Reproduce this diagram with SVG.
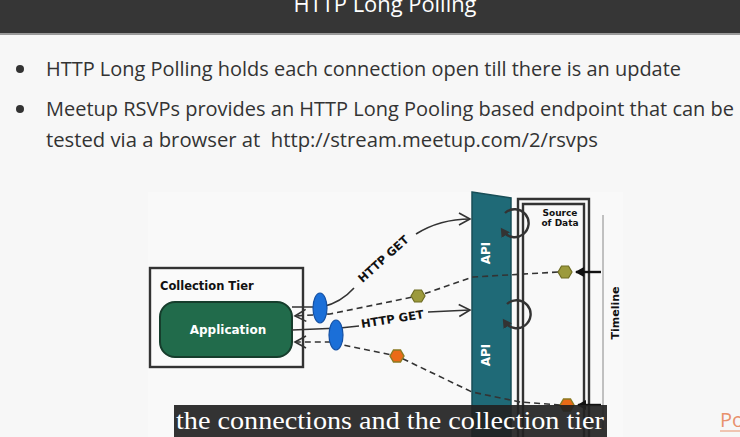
<svg xmlns="http://www.w3.org/2000/svg" width="740" height="437" viewBox="0 0 740 437">
  <style>
    .slide { font-family: "Open Sans", "Liberation Sans", sans-serif; fill: #333; }
    .hand { font-family: "DejaVu Sans", "Liberation Sans", sans-serif; font-weight: bold; }
    .caption { font-family: "Liberation Serif", "DejaVu Serif", serif; fill: #fff; }
    .wire { fill: none; stroke: #333; stroke-width: 1.6; }
    .dash { fill: none; stroke: #333; stroke-width: 1.6; stroke-dasharray: 6 4; }
    .wall { fill: none; stroke: #333; stroke-width: 2.4; }
    .olive { fill: #9c9a3c; stroke: #6e6c22; stroke-width: 1.2; }
    .orange { fill: #ea6b17; stroke: #8a7a22; stroke-width: 1.4; }
    .bead { fill: #1b6fd8; stroke: #1450a3; stroke-width: 1.2; }
  </style>
  <defs>
    <polygon id="hex" points="-7,0 -3.5,-6 3.5,-6 7,0 3.5,6 -3.5,6"/>
    <marker id="open" markerWidth="14" markerHeight="14" refX="12" refY="7" orient="auto" markerUnits="userSpaceOnUse">
      <path d="M1,1 L12,7 L1,13" fill="none" stroke="#333" stroke-width="1.6"/>
    </marker>
    <marker id="solid" markerWidth="10" markerHeight="10" refX="8" refY="5" orient="auto" markerUnits="userSpaceOnUse">
      <path d="M0,0 L9,5 L0,10 Z" fill="#111"/>
    </marker>
    <marker id="spin" markerWidth="10" markerHeight="10" refX="5" refY="5" orient="auto" markerUnits="userSpaceOnUse">
      <path d="M0,0 L9,5 L0,10 Z" fill="#333"/>
    </marker>
  </defs>

  <!-- page -->
  <rect x="0" y="0" width="740" height="437" fill="#f7f7f7"/>
  <rect x="0" y="0" width="740" height="33" fill="#363636"/>
  <rect x="0" y="33" width="740" height="2" fill="#9a9a9a"/>
  <text x="385" y="12" text-anchor="middle" font-family="Open Sans, Liberation Sans, sans-serif" font-size="22" fill="#fff" textLength="183" lengthAdjust="spacingAndGlyphs">HTTP Long Polling</text>

  <!-- bullets -->
  <circle cx="20" cy="69" r="4" fill="#333"/>
  <circle cx="20" cy="109" r="4" fill="#333"/>
  <text class="slide" x="46" y="76" font-size="20" textLength="635" lengthAdjust="spacingAndGlyphs">HTTP Long Polling holds each connection open till there is an update</text>
  <text class="slide" x="46" y="116" font-size="20" textLength="688" lengthAdjust="spacingAndGlyphs">Meetup RSVPs provides an HTTP Long Pooling based endpoint that can be</text>
  <text class="slide" x="46" y="147" font-size="20" textLength="552" lengthAdjust="spacingAndGlyphs" xml:space="preserve">tested via a browser at  http://stream.meetup.com/2/rsvps</text>

  <!-- figure backdrop -->
  <rect x="148" y="192" width="475" height="245" fill="#f9f9f9"/>

  <!-- collection tier -->
  <g id="collection-tier">
    <rect x="150" y="268" width="153" height="99" fill="#fafafa" stroke="#333" stroke-width="2.4"/>
    <text class="hand" x="160" y="290" font-size="11.5" fill="#111">Collection Tier</text>
  </g>
  <g id="application">
    <rect x="160" y="302" width="132" height="55" rx="15" fill="#216b4b" stroke="#163d2c" stroke-width="2"/>
    <text class="hand" x="228" y="334" font-size="12" fill="#fff" text-anchor="middle" font-weight="normal">Application</text>
  </g>

  <!-- API gateway -->
  <g id="api">
    <polygon points="472,192 511,198 511,437 472,437" fill="#1f6a77" stroke="#184e57" stroke-width="1.5"/>
    <text class="hand" x="0" y="0" font-size="12" fill="#fff" text-anchor="middle" transform="translate(490,253) rotate(-90)">API</text>
    <text class="hand" x="0" y="0" font-size="12" fill="#fff" text-anchor="middle" transform="translate(490,355) rotate(-90)">API</text>
  </g>

  <!-- source of data -->
  <g id="source-of-data">
    <path class="wall" d="M518,437 V199 H589 V437"/>
    <path class="wall" d="M523,437 V204 H584 V437"/>
    <text class="hand" x="560" y="216" font-size="9" fill="#111" text-anchor="middle">Source</text>
    <text class="hand" x="560" y="226" font-size="9" fill="#111" text-anchor="middle">of Data</text>
  </g>

  <!-- timeline -->
  <g id="timeline">
    <line x1="603" y1="215" x2="603" y2="430" stroke="#888" stroke-width="1"/>
    <text class="hand" x="0" y="0" font-size="11" fill="#111" text-anchor="middle" transform="translate(619,313) rotate(-90)">Timeline</text>
  </g>

  <!-- connectors -->
  <g id="connectors">
    <!-- first long-poll request -->
    <path class="wire" d="M292,307 L322,307 C335,304 346,297 354,288"/>
    <path class="wire" d="M416,234 C432,224 450,219 470,219" marker-end="url(#open)"/>
    <text class="hand" x="0" y="0" font-size="11.5" fill="#111" text-anchor="middle" transform="translate(386,262) rotate(-42)">HTTP GET</text>
    <!-- first response -->
    <path class="dash" d="M558,272 L473,277 L418,296 L330,314 L295,316" marker-end="url(#open)"/>
    <!-- second long-poll request -->
    <path class="wire" d="M292,330 L340,328 L359,326"/>
    <path class="wire" d="M428,312 L470,310" marker-end="url(#open)"/>
    <text class="hand" x="0" y="0" font-size="11.5" fill="#111" text-anchor="middle" transform="translate(393,323) rotate(-9)">HTTP GET</text>
    <!-- second response -->
    <path class="dash" d="M560,405 L520,402 L472,392 L397,356 L343,345 L330,342 L295,342" marker-end="url(#open)"/>
    <!-- events arriving on the timeline -->
    <line x1="601" y1="272" x2="576" y2="272" stroke="#111" stroke-width="2.4" marker-end="url(#solid)"/>
    <line x1="601" y1="405" x2="578" y2="405" stroke="#111" stroke-width="2.4" marker-end="url(#solid)"/>
    <!-- held connections spinning at the API -->
    <path d="M505,213 A14,14 0 1,1 503,231" fill="none" stroke="#333" stroke-width="2.4" marker-end="url(#spin)"/>
    <path d="M507,304 A14,14 0 1,1 505,322" fill="none" stroke="#333" stroke-width="2.4" marker-end="url(#spin)"/>
  </g>

  <!-- connection beads -->
  <g id="bead-1"><ellipse class="bead" cx="320" cy="308" rx="7" ry="15"/></g>
  <g id="bead-2"><ellipse class="bead" cx="336" cy="335" rx="7" ry="15"/></g>

  <!-- events -->
  <g id="event-1"><use href="#hex" class="olive" x="418" y="296"/></g>
  <g id="event-2"><use href="#hex" class="olive" x="565" y="272"/></g>
  <g id="event-3"><use href="#hex" class="orange" x="397" y="356"/></g>
  <g id="event-4"><use href="#hex" class="orange" x="567" y="405"/></g>

  <!-- caption -->
  <rect x="174" y="405" width="433" height="32" fill="#222" fill-opacity="0.92"/>
  <text class="caption" x="390" y="429" text-anchor="middle" font-size="26" textLength="428" lengthAdjust="spacingAndGlyphs">the connections and the collection tier</text>

  <text x="720" y="427" font-family="Open Sans, Liberation Sans, sans-serif" font-size="20" fill="#e8916c">Po</text>
  <line x1="720" y1="431" x2="740" y2="431" stroke="#e8916c" stroke-width="1"/>
</svg>
